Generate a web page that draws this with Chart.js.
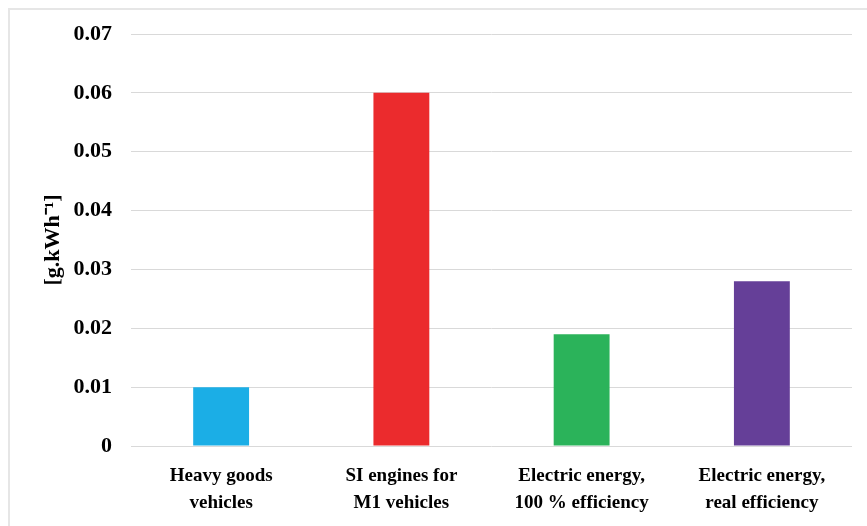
<!DOCTYPE html>
<html>
<head>
<meta charset="utf-8">
<script src="https://cdn.jsdelivr.net/npm/chart.js@4/dist/chart.umd.min.js"></script>
<style>
  html, body { margin: 0; padding: 0; background: #fff; }
  #wrap { position: relative; width: 867px; height: 526px; overflow: hidden; }
  #frame { position: absolute; left: 8px; top: 8px; width: 900px; height: 600px;
           border-left: 2px solid #e6e6e6; border-top: 2px solid #e6e6e6; box-sizing: border-box; }
  canvas { position: absolute; left: 0; top: 0; }
</style>
</head>
<body>
<div id="wrap">
  <div id="frame"></div>
  <canvas id="c" width="867" height="526"></canvas>
</div>
<script>
const categories = [
  ["Heavy goods", "vehicles"],
  ["SI engines for", "M1 vehicles"],
  ["Electric energy,", "100 % efficiency"],
  ["Electric energy,", "real efficiency"]
];
const values = [0.010, 0.060, 0.019, 0.028];
const barColors = ["#1baee6", "#eb2b2d", "#2bb35a", "#653f98"];
const yTitle = "[g.kWh\u207B\u00B9]";

const serif = "'Liberation Serif', 'Times New Roman', serif";

new Chart(document.getElementById("c"), {
  type: "bar",
  data: {
    labels: categories,
    datasets: [{
      data: values,
      backgroundColor: barColors,
      borderWidth: 0,
      categoryPercentage: 1.0,
      barPercentage: 0.31
    }]
  },
  options: {
    responsive: false,
    animation: false,
    devicePixelRatio: 1,
    layout: { padding: { left: 0, right: 15, top: 34, bottom: 0 } },
    plugins: { legend: { display: false }, tooltip: { enabled: false } },
    scales: {
      x: {
        grid: { display: false },
        border: { display: false },
        ticks: {
          color: "#000",
          font: { family: serif, size: 19, weight: "bold", lineHeight: 1.42 },
          padding: 9,
          maxRotation: 0,
          autoSkip: false
        },
        afterFit: (s) => { s.height = 80; }
      },
      y: {
        min: 0,
        max: 0.07,
        grid: { color: "#d9d9d9", lineWidth: 1, drawTicks: false },
        border: { display: false },
        ticks: {
          stepSize: 0.01,
          color: "#000",
          padding: 19,
          font: { family: serif, size: 22, weight: "bold" },
          callback: (v) => (v === 0 ? "0" : v.toFixed(2))
        },
        title: {
          display: true,
          text: yTitle,
          color: "#000",
          font: { family: serif, size: 22, weight: "bold" },
          padding: { top: 40, bottom: 0 }
        },
        afterFit: (s) => { s.width = 131; }
      }
    }
  }
});
</script>
</body>
</html>
